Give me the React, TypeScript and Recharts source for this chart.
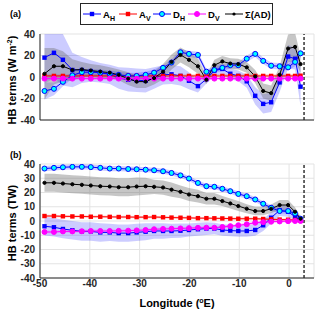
import React from "react";
import {
  ComposedChart,
  Line,
  Area,
  XAxis,
  YAxis,
  CartesianGrid,
  ReferenceLine,
} from "recharts";

// longitude of each section point (deg E)
const lon = [
  -49.1, -47.2, -45.4, -43.5, -41.6, -39.8, -37.9, -36.0, -34.2, -32.3, -30.6,
  -28.8, -27.1, -25.3, -23.6, -21.8, -20.1, -18.3, -16.6, -15.0, -13.4, -11.8,
  -10.2, -8.5, -6.8, -5.2, -3.6, -1.9, -0.2, 1.2, 2.3,
];

// panel (a): W m-2
const aHa = [18, 22.5, 16, 6.5, 6.5, 5.5, 4, 2.5, -1, -2.5, -3, -3.5, -1, 2, 2.5, 1, -3.5, -8.5, -2, 6, 7.5, 3, 1, -4, -17.5, -25, -23.5, -5, 19, 17, -9];
const aVa = [1, 1, 1, 1, 1, 1, 1, 1, 1, 1, 1, 1, 1, 1, 1, 1, 1, 1, 0.5, 1, 1, 1, 1, 1, 1, 1, 1, 1, 1, 1, 1.2];
const dHa = [-13, -11, -4.5, 1.5, 4.5, 4.5, 4, 3, 2, 1, 1, 2, 4, 8.5, 13.5, 23, 21.5, 20.5, 5, 6.5, 8.5, 11, 11, 17, 21.5, 15, 10.5, 10, 9, 14, 22];
const dVa = [-1.5, -1.5, -1.5, -1.5, -1.5, -1.5, -1.5, -1.5, -1.5, -1.5, -1.5, -1.5, -1.5, -1.5, -1.5, -1.5, -1.5, -1.5, -1.5, -1.5, -1.5, -1.5, -1.5, -1.5, -1.5, -1.5, -1.5, -1.5, -1.5, -1.5, -1.5];
const sADa = [3, 10, 10, 6.5, 7, 6, 5, 4, 2, -1.5, -4.3, -4.3, -1, 5, 14, 20.5, 16, 10, -2.5, 11, 14.5, 12.5, 12, 9, 0.5, -13, -15, 2, 26.5, 28, 12];
// half widths of the shaded ranges, panel (a)
const aHaW = [24, 24, 24, 16, 12, 10, 9, 9, 10, 11, 11, 11, 10, 9, 9, 9, 8, 6, 4, 5, 5, 5, 5, 6, 8, 9, 9, 9, 11, 10, 18];
const dHaW = [8, 6, 4, 3, 3, 3, 3, 3, 3, 3, 3, 3, 3, 3, 3, 3, 3, 3, 2.5, 2.5, 3, 3, 3, 3, 3, 3, 3, 3, 3, 4, 4];
const sADaW = [24, 17, 14, 10, 7, 6, 6, 5, 5, 6, 6, 6, 6, 7, 7, 7, 7, 7, 4, 5, 5, 5, 5, 5, 6, 7, 7, 8, 13, 13, 8];
const aVaW = 1.5;
const dVaW = 1;

// panel (b): TW
const aHb = [-3.7, -4.4, -5.6, -6.5, -7.3, -7.3, -8, -8, -8.5, -8.5, -8, -7.5, -7, -7, -7, -6.8, -6.3, -5.8, -5.3, -5.3, -6.3, -6.7, -7, -7, -6.3, -3, 2.3, 7.5, 6.5, 3, 0.5];
const aVb = [3.5, 3.5, 3.3, 3.2, 3.2, 3, 3, 2.9, 2.8, 2.8, 2.7, 2.7, 2.8, 2.6, 2.4, 2.3, 2.2, 2, 2, 1.9, 1.8, 1.7, 1.6, 1.6, 1.6, 1.4, 1.2, 1, 0.9, 0.7, 0.5];
const dHb = [36.8, 37.3, 37.7, 38, 38, 37.8, 37.3, 36.8, 36.8, 36.5, 36.3, 36, 35.6, 34.9, 33.7, 32, 29.8, 26.7, 24.4, 24, 22.6, 20.9, 19, 17.4, 15.1, 12.1, 9.3, 7, 7, 5.3, 1.6];
const dVb = [-7.7, -7.7, -7.3, -7.3, -7.2, -7, -7, -7, -6.9, -6.8, -6.6, -6.3, -5.8, -5.6, -5.4, -5.2, -5, -4.8, -4.7, -4.7, -4.2, -3.6, -3, -2.3, -1.2, -0.8, -0.5, -0.3, -0.1, 0, 0];
const sADb = [26.8, 26.8, 26.3, 25.8, 25.4, 24.9, 24.4, 24.2, 23.7, 23.7, 24.2, 24.4, 24, 23.5, 22, 20.5, 18.6, 17.4, 15.6, 15.6, 14, 12.3, 10.5, 8.6, 7, 7, 8.6, 11.2, 11.2, 6.5, 1.6];
const aHbW = [6.5, 6.5, 6.5, 6.5, 6.5, 6.5, 6.5, 6, 6, 6, 6, 6, 5.5, 5.5, 5, 5, 4.5, 4.5, 4.5, 4, 4, 4, 4, 4, 4, 4, 4, 4, 3.5, 2.5, 2];
const sADbW = [6.3, 6.3, 6.3, 6.3, 6.3, 6.3, 6.3, 6.3, 6.3, 6.3, 6.3, 6, 5, 5, 5, 4.5, 4.5, 4.5, 4, 4, 3.5, 3.5, 3.5, 3.2, 3, 3, 3, 3.5, 3.5, 3, 1.5];
const dHbW = 1.8;
const aVbW = 0.8;
const dVbW = 1;

const xTicks = [-50, -40, -30, -20, -10, 0];
const yTicksA = [-40, -20, 0, 20, 40];
const yTicksB = [-40, -30, -20, -10, 0, 10, 20, 30, 40];

const FONT = '"Liberation Sans", Arial, sans-serif';
const BLUE = "#0000ff";
const RED = "#ff0000";
const CYAN = "#00ffff";
const MAG = "#ff00ff";
const INK = "#262626";

const band = (v: number[], w: number[] | number) =>
  v.map((x, i) => {
    const h = typeof w === "number" ? w : w[i];
    return [x - h, x + h];
  });

function rows(aH: number[], aV: number[], dH: number[], dV: number[], s: number[], w: any) {
  const bAH = band(aH, w.aH);
  const bAV = band(aV, w.aV);
  const bDH = band(dH, w.dH);
  const bDV = band(dV, w.dV);
  const bS = band(s, w.s);
  return lon.map((x, i) => ({
    lon: x,
    aH: aH[i],
    aV: aV[i],
    dH: dH[i],
    dV: dV[i],
    sAD: s[i],
    bAH: bAH[i],
    bAV: bAV[i],
    bDH: bDH[i],
    bDV: bDV[i],
    bS: bS[i],
  }));
}

const dataA = rows(aHa, aVa, dHa, dVa, sADa, { aH: aHaW, aV: aVaW, dH: dHaW, dV: dVaW, s: sADaW });
const dataB = rows(aHb, aVb, dHb, dVb, sADb, { aH: aHbW, aV: aVbW, dH: dHbW, dV: dVbW, s: sADbW });

const squareDot = (color: string) => (p: any) =>
  p.cx == null || p.cy == null ? (
    <g key={`s${p.index}`} />
  ) : (
    <rect key={`s${p.index}`} x={p.cx - 2.2} y={p.cy - 2.2} width={4.4} height={4.4} fill={color} />
  );

const circleDot = (fill: string, stroke: string, r: number) => (p: any) =>
  p.cx == null || p.cy == null ? (
    <g key={`c${p.index}`} />
  ) : (
    <circle key={`c${p.index}`} cx={p.cx} cy={p.cy} r={r} fill={fill} stroke={stroke} strokeWidth={1} />
  );

const tickStyle = { fontSize: 10, fontWeight: 700, fill: INK, fontFamily: FONT };

function Panel({ data, yTicks, height, margin, showX }: any) {
  return (
    <ComposedChart width={320} height={height} data={data} margin={margin}>
      <CartesianGrid stroke="#e3e3e3" strokeWidth={1} />
      <XAxis
        dataKey="lon"
        type="number"
        domain={[-50, 5]}
        ticks={xTicks}
        allowDataOverflow
        axisLine={{ stroke: INK }}
        tickLine={false}
        tick={showX ? tickStyle : false}
        tickSize={1}
        tickMargin={1}
        height={showX ? 38 : 2}
        interval={0}
      />
      <YAxis
        type="number"
        domain={[-40, 40]}
        ticks={yTicks}
        allowDataOverflow
        axisLine={{ stroke: INK }}
        tickLine={false}
        tick={tickStyle}
        tickSize={3}
        tickMargin={2}
        width={40}
        interval={0}
      />
      <Area dataKey="bAH" type="linear" fill={BLUE} fillOpacity={0.2} stroke="none" isAnimationActive={false} />
      <Area dataKey="bAV" type="linear" fill={RED} fillOpacity={0.2} stroke="none" isAnimationActive={false} />
      <Area dataKey="bDH" type="linear" fill={BLUE} fillOpacity={0.2} stroke="none" isAnimationActive={false} />
      <Area dataKey="bDV" type="linear" fill={MAG} fillOpacity={0.2} stroke="none" isAnimationActive={false} />
      <Area dataKey="bS" type="linear" fill="#707070" fillOpacity={0.4} stroke="none" isAnimationActive={false} />
      <Line dataKey="aH" type="linear" stroke={BLUE} strokeWidth={1} dot={squareDot(BLUE)} isAnimationActive={false} />
      <Line dataKey="aV" type="linear" stroke={RED} strokeWidth={1} dot={squareDot(RED)} isAnimationActive={false} />
      <Line dataKey="dH" type="linear" stroke={BLUE} strokeWidth={1} dot={circleDot(CYAN, BLUE, 2.5)} isAnimationActive={false} />
      <Line dataKey="dV" type="linear" stroke={MAG} strokeWidth={1} dot={circleDot(MAG, MAG, 2.5)} isAnimationActive={false} />
      <Line dataKey="sAD" type="linear" stroke="#000" strokeWidth={1} dot={circleDot("#000", "#000", 1.6)} isAnimationActive={false} />
      <ReferenceLine x={3} stroke="#000" strokeWidth={1.2} strokeDasharray="3 2" />
    </ComposedChart>
  );
}

const legendItems = [
  { x: 83, base: "A", sub: "H", color: BLUE, kind: "sq" },
  { x: 119, base: "A", sub: "V", color: RED, kind: "sq" },
  { x: 153, base: "D", sub: "H", color: BLUE, kind: "cy" },
  { x: 188, base: "D", sub: "V", color: MAG, kind: "mg" },
  { x: 225, base: "\u03a3(AD)", sub: "", color: "#000", kind: "bk" },
];

function Overlay() {
  return (
    <svg width={320} height={316} style={{ position: "absolute", left: 0, top: 0 }}>
      <g fontFamily={FONT} fontWeight={700} fill="#000">
        <text x={10} y={17} fontSize={9}>(a)</text>
        <text x={10} y={158} fontSize={9}>(b)</text>
        <text transform="translate(16,80) rotate(-90)" textAnchor="middle" fontSize={11}>
          HB terms (W m<tspan dy={-4} fontSize={7}>-2</tspan>
          <tspan dy={4}>)</tspan>
        </text>
        <text transform="translate(16,223) rotate(-90)" textAnchor="middle" fontSize={11}>
          HB terms (TW)
        </text>
        <text x={177} y={307} textAnchor="middle" fontSize={11}>
          Longitude (<tspan dy={-4} fontSize={7}>o</tspan>
          <tspan dy={4}>E)</tspan>
        </text>
      </g>
      <rect x={80.5} y={3.5} width={192} height={21} fill="#fff" stroke="#262626" strokeWidth={1} />
      {legendItems.map((it) => (
        <g key={it.x}>
          <line x1={it.x} x2={it.x + 18} y1={14} y2={14} stroke={it.color} strokeWidth={1} />
          {it.kind === "sq" && <rect x={it.x + 6.8} y={11.8} width={4.4} height={4.4} fill={it.color} />}
          {it.kind === "cy" && <circle cx={it.x + 9} cy={14} r={2.5} fill={CYAN} stroke={BLUE} />}
          {it.kind === "mg" && <circle cx={it.x + 9} cy={14} r={2.5} fill={MAG} stroke={MAG} />}
          {it.kind === "bk" && <circle cx={it.x + 9} cy={14} r={1.6} fill="#000" />}
          <text x={it.x + 20} y={17.5} fontFamily={FONT} fontWeight={700} fontSize={9.5} fill="#000">
            {it.base}
            {it.sub && (
              <tspan dy={3} fontSize={7}>
                {it.sub}
              </tspan>
            )}
          </text>
        </g>
      ))}
    </svg>
  );
}

export default function App() {
  return (
    <div style={{ position: "absolute", left: 0, top: 0, width: 320, height: 316, background: "#fff", overflow: "hidden" }}>
      <div style={{ position: "absolute", left: 0, top: 0 }}>
        <Panel data={dataA} yTicks={yTicksA} height={125} margin={{ top: 34, right: 6, bottom: 3, left: 0 }} showX={false} />
      </div>
      <div style={{ position: "absolute", left: 0, top: 140 }}>
        <Panel data={dataB} yTicks={yTicksB} height={176} margin={{ top: 24, right: 6, bottom: 0, left: 0 }} showX={true} />
      </div>
      <Overlay />
    </div>
  );
}
